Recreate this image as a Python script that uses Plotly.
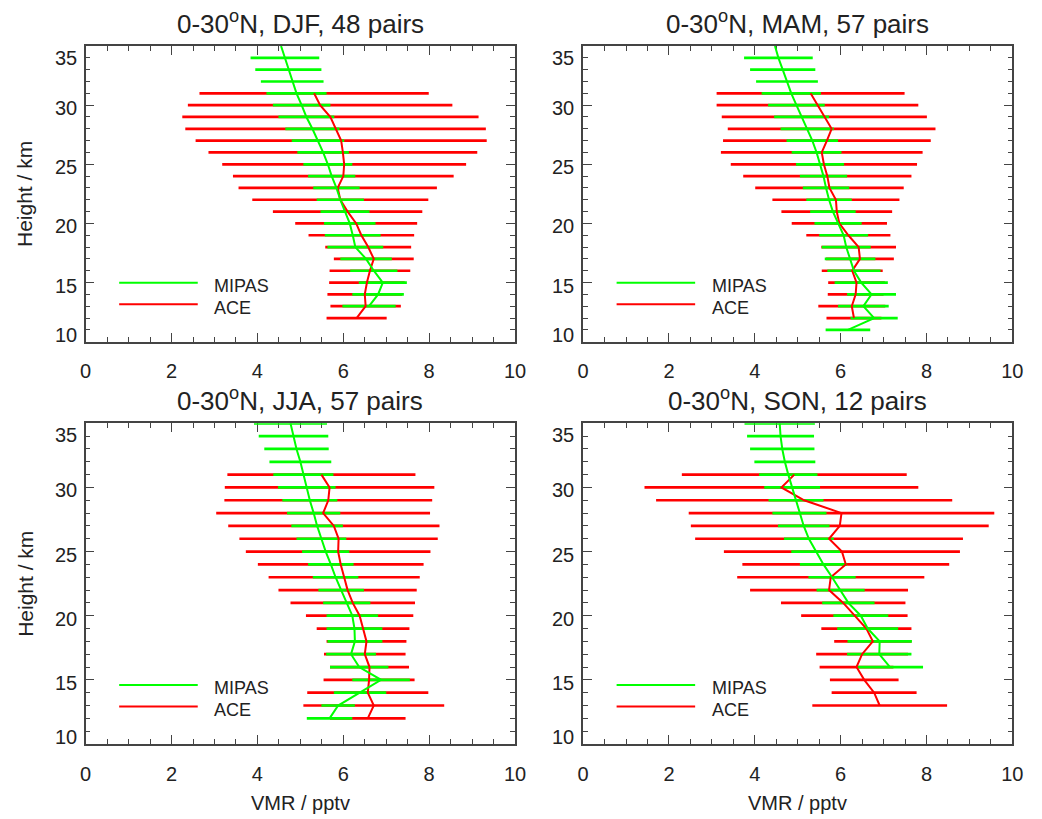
import plotly.graph_objects as go

W, H = 1042, 819

# ---------------- data (VMR in pptv, heights in km) ----------------
seasons = ["DJF", "MAM", "JJA", "SON"]
pairs = [48, 57, 57, 12]

# DJF
mipas_djf_h = [35, 34, 33, 32, 31, 30, 29, 28, 27, 26, 25, 24, 23, 22, 21, 20, 19, 18, 17, 16, 15, 14, 13]
mipas_djf_mean = [4.55, 4.64, 4.72, 4.81, 4.91, 5.03, 5.14, 5.28, 5.41, 5.53, 5.64, 5.73, 5.84, 5.93,
                  6.04, 6.15, 6.22, 6.28, 6.53, 6.71, 6.92, 6.81, 6.60]
mipas_djf_sd = [None, 0.80, 0.77, 0.73, 0.70, 0.67, 0.65, 0.63, 0.61, 0.60, 0.57, 0.55, 0.54, 0.55,
                0.57, 0.60, 0.65, 0.65, 0.60, 0.55, 0.56, 0.60, 0.62]
ace_djf_h = [31, 30, 29, 28, 27, 26, 25, 24, 23, 22, 21, 20, 19, 18, 17, 16, 15, 14, 13, 12]
ace_djf_mean = [5.32, 5.46, 5.70, 5.82, 5.95, 5.99, 6.02, 6.00, 5.87, 5.93, 6.10, 6.30, 6.42, 6.58,
                6.71, 6.62, 6.55, 6.50, 6.52, 6.31]
ace_djf_sd = [2.67, 3.08, 3.45, 3.50, 3.39, 3.13, 2.84, 2.57, 2.31, 2.05, 1.74, 1.42, 1.23, 1.00,
              0.93, 0.94, 0.88, 0.87, 0.82, 0.70]

# MAM
mipas_mam_h = [35, 34, 33, 32, 31, 30, 29, 28, 27, 26, 25, 24, 23, 22, 21, 20, 19, 18, 17, 16, 15, 14, 13, 12, 11]
mipas_mam_mean = [4.47, 4.55, 4.65, 4.75, 4.85, 4.97, 5.09, 5.22, 5.34, 5.44, 5.52, 5.60, 5.66, 5.73,
                  5.82, 5.94, 6.07, 6.13, 6.22, 6.31, 6.48, 6.72, 6.53, 6.78, 6.17]
mipas_mam_sd = [None, 0.80, 0.76, 0.72, 0.69, 0.66, 0.64, 0.62, 0.60, 0.58, 0.56, 0.55, 0.54, 0.53,
                0.53, 0.55, 0.57, 0.57, 0.59, 0.62, 0.62, 0.57, 0.59, 0.55, 0.52]
ace_mam_h = [31, 30, 29, 28, 27, 26, 25, 24, 23, 22, 21, 20, 19, 18, 17, 16, 15, 14, 13, 12]
ace_mam_mean = [5.30, 5.46, 5.62, 5.79, 5.68, 5.56, 5.61, 5.69, 5.74, 5.89, 5.91, 5.97, 6.18, 6.42,
                6.45, 6.27, 6.37, 6.35, 6.26, 6.31]
ace_mam_sd = [2.19, 2.35, 2.39, 2.42, 2.42, 2.35, 2.17, 1.96, 1.73, 1.48, 1.29, 1.11, 0.98, 0.87,
              0.79, 0.71, 0.66, 0.65, 0.78, 0.64]

# JJA
mipas_jja_h = [35, 34, 33, 32, 31, 30, 29, 28, 27, 26, 25, 24, 23, 22, 21, 20, 19, 18, 17, 16, 15, 14, 13, 12]
mipas_jja_mean = [4.77, 4.84, 4.91, 5.00, 5.07, 5.15, 5.22, 5.31, 5.39, 5.49, 5.59, 5.71, 5.82, 5.95,
                  6.08, 6.21, 6.26, 6.27, 6.18, 6.37, 6.88, 6.39, 5.88, 5.68]
mipas_jja_sd = [0.85, 0.81, 0.75, 0.72, 0.70, 0.67, 0.64, 0.62, 0.60, 0.58, 0.55, 0.53, 0.53, 0.53,
                0.55, 0.60, 0.65, 0.64, 0.58, 0.68, 0.67, 0.61, 0.39, 0.53]
ace_jja_h = [31, 30, 29, 28, 27, 26, 25, 24, 23, 22, 21, 20, 19, 18, 17, 16, 15, 14, 13, 12]
ace_jja_mean = [5.49, 5.68, 5.65, 5.53, 5.78, 5.89, 5.88, 5.94, 6.02, 6.10, 6.22, 6.38, 6.46, 6.54,
                6.50, 6.61, 6.60, 6.57, 6.71, 6.57]
ace_jja_sd = [2.19, 2.44, 2.42, 2.49, 2.46, 2.31, 2.15, 1.93, 1.76, 1.61, 1.45, 1.25, 1.08, 0.93,
              0.95, 0.92, 1.06, 1.41, 1.64, 0.88]

# SON
mipas_son_h = [35, 34, 33, 32, 31, 30, 29, 28, 27, 26, 25, 24, 23, 22, 21, 20, 19, 18, 17, 16]
mipas_son_mean = [4.58, 4.60, 4.64, 4.70, 4.78, 4.87, 4.96, 5.04, 5.14, 5.26, 5.42, 5.60, 5.80, 6.00,
                  6.18, 6.47, 6.63, 6.91, 6.90, 7.15]
mipas_son_sd = [0.82, 0.78, 0.75, 0.71, 0.68, 0.65, 0.64, 0.63, 0.60, 0.58, 0.57, 0.55, 0.55, 0.56,
                0.61, 0.64, 0.71, 0.75, 0.75, 0.77]
ace_son_h = [31, 30, 29, 28, 27, 26, 25, 24, 23, 22, 21, 20, 19, 18, 17, 16, 15, 14, 13]
ace_son_mean = [4.92, 4.62, 5.15, 6.02, 5.98, 5.73, 6.03, 6.12, 5.77, 5.73, 6.06, 6.32, 6.60, 6.75,
                6.50, 6.37, 6.55, 6.78, 6.91]
ace_son_sd = [2.62, 3.19, 3.45, 3.56, 3.47, 3.12, 2.75, 2.41, 2.18, 1.84, 1.45, 1.24, 1.05, 0.90,
              1.07, 0.86, 0.80, 0.99, 1.57]

x_ticks = [0, 2, 4, 6, 8, 10]
y_ticks = [10, 15, 20, 25, 30, 35]

panels = [
    (mipas_djf_h, mipas_djf_mean, mipas_djf_sd, ace_djf_h, ace_djf_mean, ace_djf_sd),
    (mipas_mam_h, mipas_mam_mean, mipas_mam_sd, ace_mam_h, ace_mam_mean, ace_mam_sd),
    (mipas_jja_h, mipas_jja_mean, mipas_jja_sd, ace_jja_h, ace_jja_mean, ace_jja_sd),
    (mipas_son_h, mipas_son_mean, mipas_son_sd, ace_son_h, ace_son_mean, ace_son_sd),
]

# ---------------- styling ----------------
GREEN = "#00ff00"
RED = "#ff0000"
AXC = "#444444"
TXT = "#222222"
FONT = "Liberation Sans, Arial, Helvetica, sans-serif"

xdoms = [[81 / W, 517.5 / W], [586.7 / W, 1023 / W]]
ydoms = [[1 - 341.7 / H, 1 - 46 / H], [1 - 744 / H, 1 - 423.3 / H]]

fig = go.Figure()
layout = dict(
    width=W, height=H, margin=dict(l=0, r=0, t=0, b=0),
    paper_bgcolor="white", plot_bgcolor="white", showlegend=False,
    font=dict(family=FONT, color=TXT),
)
annotations = []
shapes = []

for i, (mh, mm, ms, ah, am, asd) in enumerate(panels):
    row, col = divmod(i, 2)
    n = "" if i == 0 else str(i + 1)
    xa, ya = "x" + n, "y" + n
    xdom, ydom = xdoms[col], ydoms[row]
    panel_h = (ydom[1] - ydom[0]) * H

    layout["xaxis" + n] = dict(
        domain=xdom, anchor=ya, range=[0, 10], tickmode="array", tickvals=x_ticks,
        ticks="inside", ticklen=9, tickwidth=1, tickcolor=AXC,
        minor=dict(dtick=0.5, tick0=0, ticks="inside", ticklen=5, tickwidth=1, tickcolor=AXC),
        showline=True, linecolor=AXC, linewidth=1.5, mirror="allticks",
        showgrid=False, zeroline=False, layer="below traces",
        tickfont=dict(size=20, color=TXT, family=FONT), ticklabelstandoff=11,
    )
    layout["yaxis" + n] = dict(
        domain=ydom, anchor=xa, range=[10, 35], tickmode="array", tickvals=y_ticks,
        ticks="inside", ticklen=9, tickwidth=1, tickcolor=AXC,
        minor=dict(dtick=1, tick0=10, ticks="inside", ticklen=5, tickwidth=1, tickcolor=AXC),
        showline=True, linecolor=AXC, linewidth=1.5, mirror="allticks",
        showgrid=False, zeroline=False, layer="below traces", showticklabels=False,
    )

    # ACE bars, MIPAS bars, ACE line, MIPAS line
    fig.add_trace(go.Scatter(
        x=am, y=ah, xaxis=xa, yaxis=ya, mode="markers",
        marker=dict(size=1, color="rgba(0,0,0,0)"),
        error_x=dict(type="data", array=asd, color=RED, thickness=2.7, width=0),
        cliponaxis=False, hoverinfo="skip"))
    fig.add_trace(go.Scatter(
        x=mm, y=mh, xaxis=xa, yaxis=ya, mode="markers",
        marker=dict(size=1, color="rgba(0,0,0,0)"),
        error_x=dict(type="data", array=ms, color=GREEN, thickness=2.7, width=0),
        cliponaxis=False, hoverinfo="skip"))
    fig.add_trace(go.Scatter(
        x=am, y=ah, xaxis=xa, yaxis=ya, mode="lines",
        line=dict(color=RED, width=2), cliponaxis=False, hoverinfo="skip"))
    fig.add_trace(go.Scatter(
        x=mm, y=mh, xaxis=xa, yaxis=ya, mode="lines",
        line=dict(color=GREEN, width=2), cliponaxis=False, hoverinfo="skip"))

    # title
    annotations.append(dict(
        text=f"0-30<sup>o</sup>N, {seasons[i]}, {pairs[i]} pairs",
        xref=xa + " domain", yref=ya + " domain", x=0.5, y=1, yshift=24,
        xanchor="center", yanchor="middle", showarrow=False,
        font=dict(size=26, color=TXT, family=FONT)))

    # y tick labels
    for v in y_ticks:
        shift = -12 if v == 35 else (7 if v == 10 else -3)
        annotations.append(dict(
            text=str(v), xref=xa + " domain", yref=ya, x=0, y=v,
            xshift=-7, yshift=shift, xanchor="right", yanchor="middle",
            showarrow=False, font=dict(size=20, color=TXT, family=FONT)))

    # legend
    for label, color, off_line, off_txt in [("MIPAS", GREEN, 59, 56), ("ACE", RED, 37.5, 34)]:
        shapes.append(dict(
            type="line", xref=xa + " domain", yref=ya + " domain",
            x0=0.078, x1=0.261, y0=off_line / panel_h, y1=off_line / panel_h,
            line=dict(color=color, width=2)))
        annotations.append(dict(
            text=label, xref=xa + " domain", yref=ya + " domain",
            x=0.295, y=off_txt / panel_h, xanchor="left", yanchor="middle",
            showarrow=False, font=dict(size=18, color=TXT, family=FONT)))

    # axis titles
    if col == 0:
        annotations.append(dict(
            text="Height / km", xref="paper", yref=ya + " domain", x=19.5 / W, y=0.5,
            xanchor="center", yanchor="middle", textangle=-90, showarrow=False,
            font=dict(size=21, color=TXT, family=FONT)))
    if row == 1:
        annotations.append(dict(
            text="VMR / pptv", xref=xa + " domain", yref="paper", x=0.5, y=1 - 803 / H,
            xanchor="center", yanchor="middle", showarrow=False,
            font=dict(size=20, color=TXT, family=FONT)))

layout["annotations"] = annotations
layout["shapes"] = shapes
fig.update_layout(**layout)
fig.write_html(
    "out.html",
    config={"displayModeBar": False},
    post_script="document.body.style.margin='0';document.body.style.overflow='hidden';",
)
